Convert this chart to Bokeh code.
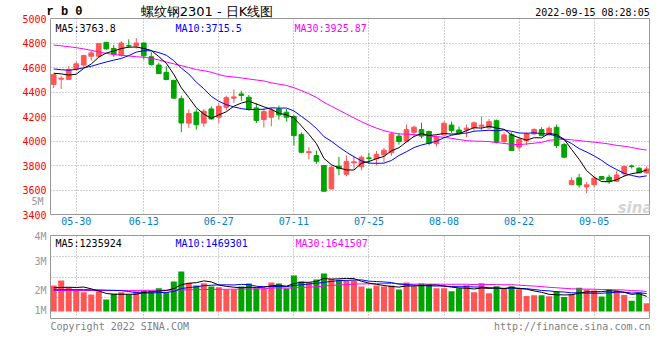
from bokeh.plotting import figure
from bokeh.models import Range1d, FixedTicker, Label, LinearAxis
from bokeh.layouts import column
from bokeh.embed import file_html
from bokeh.resources import INLINE

# ---------------- data ----------------
dates = ["05-25", "05-26", "05-27", "05-30", "05-31",
         "06-01", "06-02", "06-06", "06-07", "06-08", "06-09", "06-10",
         "06-13", "06-14", "06-15", "06-16", "06-17", "06-20", "06-21", "06-22", "06-23", "06-24",
         "06-27", "06-28", "06-29", "06-30", "07-01",
         "07-04", "07-05", "07-06", "07-07", "07-08", "07-11", "07-12", "07-13", "07-14", "07-15",
         "07-18", "07-19", "07-20", "07-21", "07-22", "07-25", "07-26", "07-27", "07-28", "07-29",
         "08-01", "08-02", "08-03", "08-04", "08-05", "08-08", "08-09", "08-10", "08-11", "08-12",
         "08-15", "08-16", "08-17", "08-18", "08-19", "08-22", "08-23", "08-24", "08-25", "08-26",
         "08-29", "08-30", "08-31", "09-01", "09-02", "09-05", "09-06", "09-07", "09-08", "09-09",
         "09-13", "09-14", "09-15"]
tick_dates = ["05-30", "06-13", "06-27", "07-11", "07-25", "08-08", "08-22", "09-05"]

opens = [4462, 4505, 4503, 4583, 4620, 4692, 4692, 4805, 4755, 4700,
         4780, 4775, 4800, 4688, 4620, 4560, 4495, 4345, 4146, 4236,
         4146, 4262, 4194, 4275, 4350, 4384, 4357, 4270, 4175, 4194,
         4262, 4235, 4200, 4052, 3905, 3881, 3800, 3609, 3795, 3728,
         3822, 3790, 3862, 3855, 3887, 3905, 4040, 3995, 4071, 4093,
         4078, 3978, 4050, 4130, 4090, 4090, 4110, 4120, 4107, 4166,
         3995, 4052, 3950, 4004, 4058, 4093, 4050, 4112, 3971, 3645,
         3699, 3625, 3645, 3710, 3704, 3672, 3732, 3796, 3778, 3740]
highs = [4548, 4532, 4610, 4650, 4705, 4735, 4798, 4810, 4785, 4815,
         4830, 4840, 4805, 4725, 4640, 4610, 4500, 4370, 4258, 4260,
         4260, 4283, 4308, 4370, 4420, 4410, 4376, 4308, 4267, 4270,
         4289, 4262, 4213, 4071, 3950, 3922, 3805, 3800, 3870, 3882,
         3880, 3882, 3905, 3920, 3943, 4075, 4065, 4135, 4125, 4150,
         4085, 4045, 4160, 4158, 4118, 4134, 4160, 4200, 4180, 4175,
         4071, 4071, 4031, 4071, 4104, 4112, 4120, 4134, 3984, 3704,
         3732, 3664, 3713, 3715, 3726, 3759, 3800, 3808, 3786, 3794]
lows = [4432, 4425, 4498, 4575, 4605, 4655, 4680, 4745, 4688, 4688,
        4760, 4755, 4665, 4615, 4548, 4495, 4345, 4072, 4105, 4092,
        4115, 4175, 4148, 4250, 4310, 4328, 4250, 4148, 4110, 4120,
        4175, 4158, 3963, 3900, 3850, 3813, 3588, 3605, 3720, 3712,
        3772, 3760, 3815, 3800, 3827, 3880, 3970, 3990, 4030, 4020,
        3965, 3955, 4045, 4066, 4050, 4031, 4085, 4085, 4100, 3980,
        3976, 3920, 3922, 3968, 4050, 4040, 4045, 3941, 3859, 3640,
        3620, 3574, 3623, 3685, 3650, 3668, 3710, 3775, 3735, 3735]
closes = [4542, 4512, 4583, 4630, 4697, 4719, 4795, 4752, 4708, 4800,
          4775, 4800, 4695, 4625, 4550, 4502, 4350, 4147, 4225, 4133,
          4243, 4180, 4283, 4354, 4360, 4372, 4257, 4168, 4240, 4254,
          4213, 4194, 4044, 3908, 3913, 3835, 3590, 3786, 3775, 3833,
          3830, 3868, 3858, 3890, 3925, 4058, 3996, 4093, 4113, 4040,
          3980, 4031, 4145, 4085, 4058, 4105, 4148, 4130, 4158, 3990,
          4050, 3922, 4012, 4058, 4093, 4044, 4104, 3963, 3868, 3677,
          3641, 3642, 3696, 3688, 3669, 3723, 3792, 3792, 3740, 3772]
volumes = [2131000, 2541000, 1992000, 1779000, 1582000, 1393000, 1664000, 984000, 1451000, 1582000,
           1393000, 1664000, 1721000, 1721000, 1910000, 1582000, 2459000, 3279000, 2352000, 2131000,
           2320000, 2049000, 1992000, 1803000, 1803000, 2049000, 2295000, 1910000, 1910000, 2377000,
           2295000, 1885000, 2951000, 2459000, 2377000, 2623000, 3115000, 2680000, 2598000, 2541000,
           2541000, 2049000, 1885000, 2131000, 2049000, 2131000, 1803000, 2377000, 2049000, 2295000,
           2238000, 1910000, 1910000, 1664000, 1910000, 2156000, 1582000, 2320000, 1500000, 2074000,
           1910000, 2074000, 1828000, 1279000, 1336000, 1336000, 1255000, 1664000, 1197000, 1418000,
           1956000, 1803000, 1721000, 1230000, 1803000, 1750000, 1350000, 880000, 1530000, 670000]

# moving-average values before enough bars are on screen
ma5_head = [4553, 4548, 4538, 4545]
ma10_head = [4588, 4582, 4578, 4585, 4598, 4610, 4628, 4645, 4660]
ma30_head = [4783, 4777, 4770, 4762, 4752, 4740, 4727, 4715, 4706, 4700,
             4694, 4688, 4684, 4675, 4662, 4645, 4630, 4615, 4600, 4583,
             4574, 4561, 4542, 4528, 4523, 4515, 4506, 4498, 4490]
vma5_head = [1940000, 1970000, 1990000, 1970000]
vma10_head = [1780000, 1780000, 1790000, 1790000, 1790000, 1780000, 1770000, 1750000, 1730000]
vma30_head = [1720000, 1720000, 1720000, 1720000, 1720000, 1720000, 1720000, 1720000, 1730000, 1730000,
              1730000, 1730000, 1740000, 1740000, 1740000, 1750000, 1760000, 1770000, 1780000, 1790000,
              1800000, 1810000, 1820000, 1820000, 1830000, 1840000, 1840000, 1850000, 1860000]

price_ticks = [3400, 3600, 3800, 4000, 4200, 4400, 4600, 4800, 5000]
title_text = "螺纹钢2301 - 日K线图"
symbol = "r b 0"
stamp = "2022-09-15 08:28:05"
ma_texts = ["MA5:3763.8", "MA10:3715.5", "MA30:3925.87"]
vma_texts = ["MA5:1235924", "MA10:1469301", "MA30:1641507"]
vol_labels = ["1M", "2M", "3M", "4M", "5M"]
copyright = "Copyright 2022 SINA.COM"
url = "http://finance.sina.com.cn"

# ---------------- helpers ----------------
n = len(dates)
idx = list(range(n))


def sma(vals, k, head):
    out = list(head)
    for i in range(k - 1, n):
        out.append(sum(vals[i - k + 1:i + 1]) / k)
    return out


ma5 = sma(closes, 5, ma5_head)
ma10 = sma(closes, 10, ma10_head)
ma30 = sma(closes, 30, ma30_head)
vma5 = sma(volumes, 5, vma5_head)
vma10 = sma(volumes, 10, vma10_head)
vma30 = sma(volumes, 30, vma30_head)

UP = "#ff5555"
DOWN = "#00a400"
colors = [UP if c >= o else DOWN for o, c in zip(opens, closes)]
body_top = [max(o, c) for o, c in zip(opens, closes)]
body_bot = [min(o, c) for o, c in zip(opens, closes)]

MONO = "DejaVu Sans Mono"
GRID = "#a0a0a0"

X0, XS = 53.2, 7.506


def xd(px):
    return (px - X0) / XS


def py(px):
    return 5000 - (px - 18.0) * 1600.0 / 196.0


VPX = 12.2 / 1e6


def vy(px):
    return (311.0 - px) / VPX


xr = Range1d(xd(50), xd(649))
tick_pos = [dates.index(d) for d in tick_dates]


def style_axis(ax, color, standoff, font=MONO, size="10px", style="normal"):
    ax.axis_line_color = None
    ax.major_tick_line_color = None
    ax.minor_tick_line_color = None
    ax.major_tick_in = 0
    ax.major_tick_out = 0
    ax.minor_tick_out = 0
    ax.major_label_text_font = font
    ax.major_label_text_font_size = size
    ax.major_label_text_font_style = style
    ax.major_label_text_color = color
    ax.major_label_standoff = standoff


def text_axis(pos, text):
    pos = round(pos, 3)
    return LinearAxis(ticker=FixedTicker(ticks=[pos]), major_label_overrides={pos: text})


# ---------------- price panel ----------------
p1 = figure(width=652, height=230, x_range=xr, y_range=Range1d(3400, 5000),
            output_backend="svg", toolbar_location=None,
            min_border_left=50, min_border_right=3, min_border_top=18, min_border_bottom=16)
p1.outline_line_color = "#999999"
p1.xaxis.ticker = FixedTicker(ticks=tick_pos)
p1.xaxis.major_label_overrides = {i: dates[i] for i in tick_pos}
p1.yaxis.ticker = FixedTicker(ticks=price_ticks)
p1.xgrid.ticker = FixedTicker(ticks=tick_pos)
p1.ygrid.ticker = FixedTicker(ticks=price_ticks)
style_axis(p1.yaxis[0], "#ff0000", 4)
style_axis(p1.xaxis[0], "#0080cc", 2)

# header texts, drawn as labels of axes above the frame (stacked on one line)
ax_stamp = text_axis(xd(592), stamp)
style_axis(ax_stamp, "#000000", 1)
p1.add_layout(ax_stamp, "above")
ax_title = text_axis(xd(206.5), title_text)
style_axis(ax_title, "#000000", -15, font="DejaVu Sans", size="13px")
p1.add_layout(ax_title, "above")
ax_sym = text_axis(xd(64), symbol)
style_axis(ax_sym, "#000000", -18, font="Liberation Mono", size="12px", style="bold")
p1.add_layout(ax_sym, "above")

# grey volume-scale label that sits in the price panel's margin
t5 = int(round(py(200.5)))
ax5 = LinearAxis(ticker=FixedTicker(ticks=[t5]), major_label_overrides={t5: vol_labels[4]})
style_axis(ax5, "#999999", -24)
p1.add_layout(ax5, "left")
for g in (p1.xgrid[0], p1.ygrid[0]):
    g.grid_line_color = GRID
    g.grid_line_dash = "1 2"
    g.grid_line_width = 1

p1.segment(x0=idx, y0=lows, x1=idx, y1=highs, color=colors, line_width=1)
p1.vbar(x=idx, width=0.62, top=body_top, bottom=body_bot,
        fill_color=colors, line_color=colors, line_width=1)
p1.line(idx, ma30, color="#ff00ff", line_width=1)
p1.line(idx, ma10, color="#0000ff", line_width=1)
p1.line(idx, ma5, color="#000000", line_width=1)

p1.add_layout(Label(x=xd(652), y=py(207), text="sina", text_font="DejaVu Sans",
                    text_font_size="15px", text_font_style="bold italic",
                    text_color="#d4d4d4", text_align="right", text_baseline="alphabetic"))

for t, xp, col in zip(ma_texts, (55, 175, 294), ("#000000", "#0000ff", "#ff00ff")):
    p1.add_layout(Label(x=xd(xp), y=py(27.5), text=t, text_font=MONO,
                        text_font_size="10px", text_color=col,
                        text_align="left", text_baseline="alphabetic"))

# ---------------- volume panel ----------------
vmin, vmax = vy(318.0), vy(235.0)
p2 = figure(width=652, height=104, x_range=xr, y_range=Range1d(vmin, vmax),
            output_backend="svg", toolbar_location=None,
            min_border_left=50, min_border_right=3, min_border_top=5, min_border_bottom=16)
p2.outline_line_color = "#999999"
cpos = [round(xd(50 + len(copyright) * 3.01), 3), round(xd(650 - len(url) * 3.01), 3)]
p2.xaxis.ticker = FixedTicker(ticks=cpos)
p2.xaxis.major_label_overrides = {cpos[0]: copyright, cpos[1]: url}
style_axis(p2.xaxis[0], "#808080", 2)
vt = [int(round(vy(310.5))), int(round(vy(290.3))), int(round(vy(260.7))), int(vmax) - 1]
p2.yaxis.ticker = FixedTicker(ticks=vt)
p2.yaxis.major_label_overrides = {v: lab for v, lab in zip(vt, vol_labels[:4])}
style_axis(p2.yaxis[0], "#999999", 4)
p2.xgrid.ticker = FixedTicker(ticks=tick_pos)
p2.ygrid.ticker = FixedTicker(ticks=[vmin + k * (vmax - vmin) / 4 for k in (1, 2, 3)])
for g in (p2.xgrid[0], p2.ygrid[0]):
    g.grid_line_color = GRID
    g.grid_line_dash = "1 2"
    g.grid_line_width = 1

p2.vbar(x=idx, width=0.8, top=volumes, bottom=0, fill_color=colors, line_color=None)
p2.line(idx, vma30, color="#ff00ff", line_width=1)
p2.line(idx, vma10, color="#0000ff", line_width=1)
p2.line(idx, vma5, color="#000000", line_width=1)

for t, xp, col in zip(vma_texts, (55, 175, 295), ("#000000", "#0000ff", "#ff00ff")):
    p2.add_layout(Label(x=xd(xp), y=vy(242.5), text=t, text_font=MONO,
                        text_font_size="10px", text_color=col,
                        text_align="left", text_baseline="alphabetic"))

layout = column(p1, p2)
open("out.html", "w").write(file_html(layout, INLINE))
